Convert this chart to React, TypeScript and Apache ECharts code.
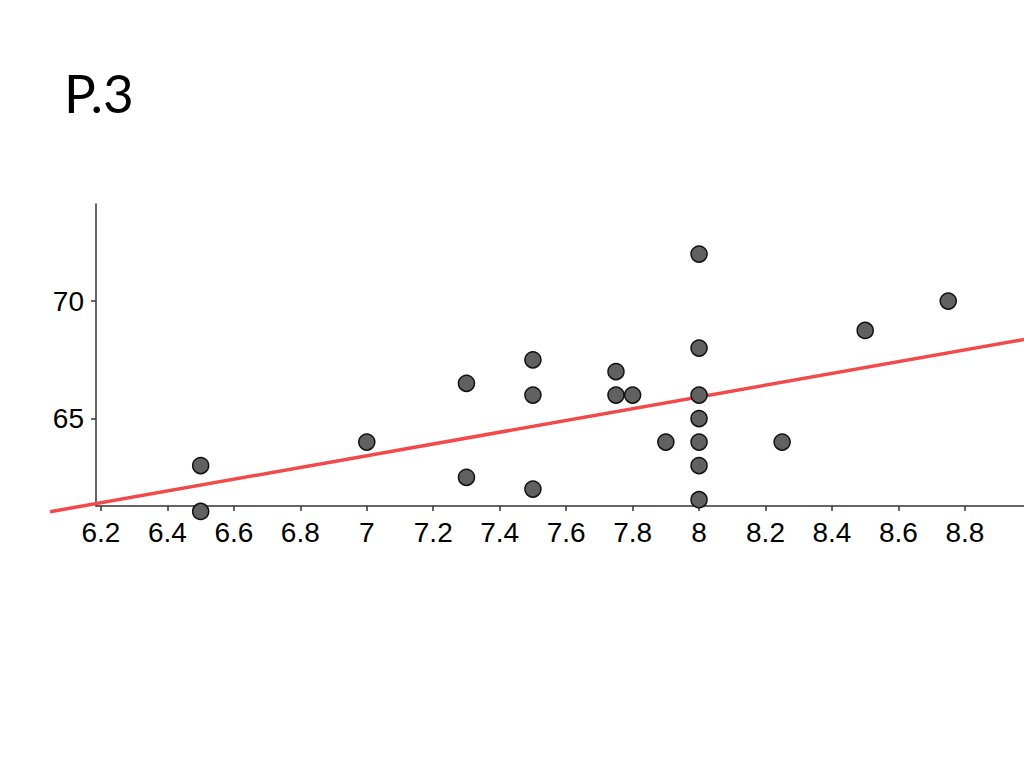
import React, { useEffect, useRef } from "react";
import * as echarts from "echarts";

const titleText = "P.3";
const xValues = [6.5, 6.5, 7, 7.3, 7.3, 7.5, 7.5, 7.5, 7.75, 7.75, 7.8, 7.9, 8, 8, 8, 8, 8, 8, 8, 8.25, 8.5, 8.75];
const yValues = [63, 61.05, 64, 66.5, 62.5, 67.5, 66, 62, 67, 66, 66, 64, 72, 68, 66, 65, 64, 63, 61.55, 64, 68.75, 70];
const xTicks = [6.2, 6.4, 6.6, 6.8, 7, 7.2, 7.4, 7.6, 7.8, 8, 8.2, 8.4, 8.6, 8.8];
const yTicks = [65, 70];
const xRange = [6.185, 8.978];
const xRangeWide = [6.0465, 8.978];
const yRange = [61.28, 74.13];
// regression line
const fitSlope = 2.5;
const fitIntercept = 45.92;
const fitXs = [6.0465, 8.978];

export default function App() {
  const ref = useRef<HTMLDivElement>(null);
  useEffect(() => {
    document.body.style.margin = "0";
    const chart = echarts.init(ref.current!, null, { renderer: "svg" });
    const points = xValues.map((x, i) => [x, yValues[i]]);
    const fitLine = fitXs.map((x) => [x, fitIntercept + fitSlope * x]);
    const axisLineStyle = { color: "#333333", width: 1.5 };
    chart.setOption({
      animation: false,
      backgroundColor: "#ffffff",
      graphic: [
        {
          type: "text",
          left: 64,
          top: 66,
          style: {
            text: titleText,
            fontFamily: "Lato",
            fontSize: 53,
            fill: "#000000",
          },
        },
      ],
      grid: [
        { left: 96, right: 0, top: 204, bottom: 262, containLabel: false },
        { left: 50, right: 0, top: 204, bottom: 262, containLabel: false },
      ],
      xAxis: [
        {
          type: "value",
          gridIndex: 0,
          min: xRange[0],
          max: xRange[1],
          splitLine: { show: false },
          axisLine: { show: true, onZero: false, lineStyle: axisLineStyle },
          axisTick: { show: true, length: 5, customValues: xTicks, lineStyle: axisLineStyle },
          axisLabel: {
            customValues: xTicks,
            margin: 12,
            fontSize: 28,
            fontFamily: "Liberation Sans",
            color: "#000000",
            formatter: (v: number) => String(Math.round(v * 10) / 10),
          },
        },
        {
          type: "value",
          gridIndex: 1,
          min: xRangeWide[0],
          max: xRangeWide[1],
          show: false,
        },
      ],
      yAxis: [
        {
          type: "value",
          gridIndex: 0,
          min: yRange[0],
          max: yRange[1],
          splitLine: { show: false },
          axisLine: { show: true, onZero: false, lineStyle: axisLineStyle },
          axisTick: { show: true, length: 5, customValues: yTicks, lineStyle: axisLineStyle },
          axisLabel: {
            customValues: yTicks,
            margin: 12,
            fontSize: 28,
            fontFamily: "Liberation Sans",
            color: "#000000",
          },
        },
        {
          type: "value",
          gridIndex: 1,
          min: yRange[0],
          max: yRange[1],
          show: false,
        },
      ],
      series: [
        {
          type: "line",
          xAxisIndex: 1,
          yAxisIndex: 1,
          data: fitLine,
          clip: false,
          symbol: "none",
          lineStyle: { color: "#f24a4a", width: 3.5 },
          z: 3,
          silent: true,
        },
        {
          type: "scatter",
          xAxisIndex: 0,
          yAxisIndex: 0,
          data: points,
          clip: false,
          symbol: "circle",
          symbolSize: 16,
          itemStyle: { color: "#616161", borderColor: "#111111", borderWidth: 1.5, opacity: 1 },
          z: 4,
        },
      ],
    });
    return () => chart.dispose();
  }, []);
  return <div ref={ref} style={{ width: 1024, height: 768 }} />;
}
